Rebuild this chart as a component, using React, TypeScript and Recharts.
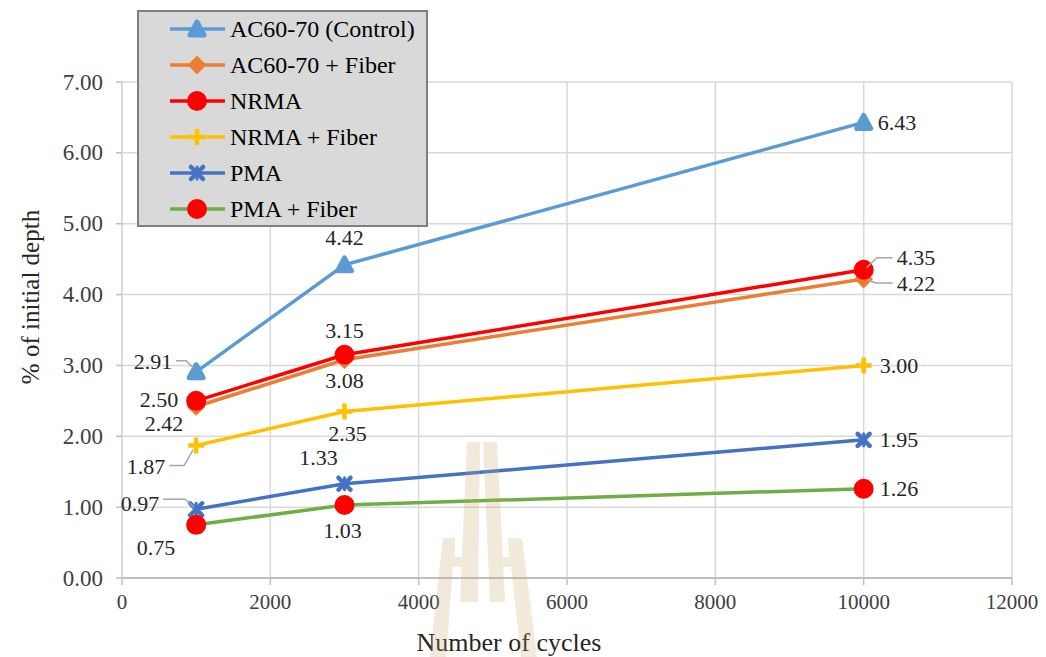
import React from 'react';
import { LineChart, Line, XAxis, YAxis, CartesianGrid } from 'recharts';

// cycles at which depth was measured
const cycles = [1000, 3000, 10000];

// % of initial depth per mix
const control = [2.91, 4.42, 6.43];
const acFiber = [2.42, 3.08, 4.22];
const nrma = [2.5, 3.15, 4.35];
const nrmaFiber = [1.87, 2.35, 3.0];
const pma = [0.97, 1.33, 1.95];
const pmaFiber = [0.75, 1.03, 1.26];

const xTicks = [0, 2000, 4000, 6000, 8000, 10000, 12000];
const yTicks = [0, 1, 2, 3, 4, 5, 6, 7];

const FONT = '"Liberation Serif", "Times New Roman", serif';

type Shape = 'triangle' | 'diamond' | 'circle' | 'plus' | 'cross';
type Place = { dx: number; dy: number; anchor: 'start' | 'middle' | 'end'; leader?: number[][] };

interface SeriesDef {
  key: string;
  name: string;
  values: number[];
  color: string;
  markerColor: string;
  shape: Shape;
  labels: Place[];
}

const series: SeriesDef[] = [
  {
    key: 'control', name: 'AC60-70 (Control)', values: control, color: '#5b9bd5', markerColor: '#5b9bd5', shape: 'triangle',
    labels: [
      { dx: -24, dy: -10, anchor: 'end', leader: [[-20, -11], [-10, -11], [-2, -3]] },
      { dx: 0, dy: -27, anchor: 'middle' },
      { dx: 14, dy: 0, anchor: 'start' },
    ],
  },
  {
    key: 'acFiber', name: 'AC60-70 + Fiber', values: acFiber, color: '#ed7d31', markerColor: '#ed7d31', shape: 'diamond',
    labels: [
      { dx: -13, dy: 17, anchor: 'end' },
      { dx: 0, dy: 21, anchor: 'middle' },
      { dx: 33, dy: 5, anchor: 'start', leader: [[4, 1], [12, 4], [29, 4]] },
    ],
  },
  {
    key: 'nrma', name: 'NRMA', values: nrma, color: '#ff0000', markerColor: '#ff0000', shape: 'circle',
    labels: [
      { dx: -18, dy: -1, anchor: 'end' },
      { dx: 0, dy: -24, anchor: 'middle' },
      { dx: 33, dy: -12, anchor: 'start', leader: [[3, -2], [13, -12], [29, -12]] },
    ],
  },
  {
    key: 'nrmaFiber', name: 'NRMA + Fiber', values: nrmaFiber, color: '#ffc000', markerColor: '#ffc000', shape: 'plus',
    labels: [
      { dx: -31, dy: 21, anchor: 'end', leader: [[-27, 20], [-12, 20], [-3, 4]] },
      { dx: 3, dy: 22, anchor: 'middle' },
      { dx: 16, dy: 0, anchor: 'start' },
    ],
  },
  {
    key: 'pma', name: 'PMA', values: pma, color: '#4472c4', markerColor: '#4472c4', shape: 'cross',
    labels: [
      { dx: -37, dy: -6, anchor: 'end', leader: [[-33, -10], [-11, -10], [-2, -2]] },
      { dx: -26, dy: -26, anchor: 'middle' },
      { dx: 16, dy: 0, anchor: 'start' },
    ],
  },
  {
    key: 'pmaFiber', name: 'PMA + Fiber', values: pmaFiber, color: '#70ad47', markerColor: '#ff0000', shape: 'circle',
    labels: [
      { dx: -21, dy: 23, anchor: 'end' },
      { dx: -2, dy: 25, anchor: 'middle' },
      { dx: 16, dy: 0, anchor: 'start' },
    ],
  },
];

const data = cycles.map((c, i) => {
  const row: Record<string, number> = { cycles: c };
  series.forEach((s) => {
    row[s.key] = s.values[i];
  });
  return row;
});

function Marker({ shape, x, y, color }: { shape: Shape; x: number; y: number; color: string }) {
  switch (shape) {
    case 'triangle':
      return (
        <path
          d={`M${x},${y - 7} L${x + 7},${y + 6} L${x - 7},${y + 6} Z`}
          fill={color}
          stroke={color}
          strokeWidth={5}
          strokeLinejoin="round"
        />
      );
    case 'diamond':
      return (
        <path
          d={`M${x},${y - 8} L${x + 8},${y} L${x},${y + 8} L${x - 8},${y} Z`}
          fill={color}
          stroke={color}
          strokeWidth={2}
          strokeLinejoin="round"
        />
      );
    case 'plus':
      return (
        <g stroke={color} strokeWidth={4.5}>
          <line x1={x - 8} y1={y} x2={x + 8} y2={y} />
          <line x1={x} y1={y - 8} x2={x} y2={y + 8} />
        </g>
      );
    case 'cross':
      return (
        <g stroke={color} strokeWidth={4.5} strokeLinecap="round">
          <line x1={x - 6} y1={y - 6} x2={x + 6} y2={y + 6} />
          <line x1={x - 6} y1={y + 6} x2={x + 6} y2={y - 6} />
          <line x1={x} y1={y - 6} x2={x} y2={y + 6} strokeWidth={3} />
        </g>
      );
    default:
      return <circle cx={x} cy={y} r={10} fill={color} />;
  }
}

const makeDot = (s: SeriesDef) => (props: any) => {
  const { cx, cy, index } = props;
  return (
    <g key={`${s.key}-dot-${index}`}>
      <Marker shape={s.shape} x={cx} y={cy} color={s.markerColor} />
    </g>
  );
};

const makeLabel = (s: SeriesDef) => (props: any) => {
  const { x, y, index, value } = props;
  const p = s.labels[index];
  if (!p) return null;
  return (
    <g key={`${s.key}-lbl-${index}`}>
      {p.leader && (
        <polyline
          points={p.leader.map(([a, b]) => `${x + a},${y + b}`).join(' ')}
          fill="none"
          stroke="#a6a6a6"
          strokeWidth={1.5}
        />
      )}
      <text
        x={x + p.dx}
        y={y + p.dy}
        textAnchor={p.anchor}
        dominantBaseline="central"
        fontFamily={FONT}
        fontSize={22}
        fill="#262626"
      >
        {Number(value).toFixed(2)}
      </text>
    </g>
  );
};

const XTick = (props: any) => {
  const { x, y, payload } = props;
  return (
    <text x={x} y={y + 15} textAnchor="middle" dominantBaseline="central" fontFamily={FONT} fontSize={21} fill="#404040">
      {payload.value}
    </text>
  );
};

const YTick = (props: any) => {
  const { x, y, payload } = props;
  return (
    <text x={x - 11} y={y} textAnchor="end" dominantBaseline="central" fontFamily={FONT} fontSize={23} fill="#404040">
      {Number(payload.value).toFixed(2)}
    </text>
  );
};

function LegendBox() {
  return (
    <div
      style={{
        position: 'absolute',
        left: 137,
        top: 10,
        width: 291,
        height: 217,
        boxSizing: 'border-box',
        background: '#d9d9d9',
        border: '2px solid #7f7f7f',
      }}
    >
      <svg width={287} height={213} style={{ display: 'block' }}>
        {series.map((s, i) => {
          const cy = 17 + i * 36;
          return (
            <g key={s.key}>
              <line x1={31} y1={cy} x2={86} y2={cy} stroke={s.color} strokeWidth={3.5} />
              <Marker shape={s.shape} x={58} y={cy} color={s.markerColor} />
              <text x={91} y={cy} dominantBaseline="central" fontFamily={FONT} fontSize={24} fill="#000">
                {s.name}
              </text>
            </g>
          );
        })}
      </svg>
    </div>
  );
}

// faint university emblem printed behind the plot
function Emblem() {
  return (
    <svg width={1046} height={657} style={{ position: 'absolute', left: 0, top: 0, pointerEvents: 'none' }}>
      <g fill="#c9a76a" opacity={0.24}>
        <polygon points="467,442 480,442 478,602 460,602" />
        <polygon points="483,442 497,442 505,602 490,602" />
        <polygon points="443,538 455,538 455,557 466,557 466,567 453,567 446,657 430,657" />
        <polygon points="508,538 522,538 537,657 521,657 511,567 498,567 497,557 509,557" />
      </g>
    </svg>
  );
}

export default function App() {
  return (
    <div style={{ position: 'absolute', left: 0, top: 0, width: 1046, height: 657, background: '#fff' }}>
      <LineChart width={1046} height={657} data={data} margin={{ top: 82, right: 34, bottom: 0, left: 0 }}>
        <CartesianGrid stroke="#d9d9d9" strokeWidth={1.5} />
        <XAxis
          dataKey="cycles"
          type="number"
          domain={[0, 12000]}
          ticks={xTicks}
          height={79}
          axisLine={{ stroke: '#bfbfbf', strokeWidth: 2 }}
          tickLine={{ stroke: '#bfbfbf', strokeWidth: 1.5 }}
          tickSize={7}
          tick={<XTick />}
          interval={0}
          label={{
            content: () => (
              <text x={509} y={642} textAnchor="middle" dominantBaseline="central" fontFamily={FONT} fontSize={26} fill="#262626">
                Number of cycles
              </text>
            ),
          }}
        />
        <YAxis
          type="number"
          domain={[0, 7]}
          ticks={yTicks}
          width={122}
          axisLine={{ stroke: '#d9d9d9', strokeWidth: 1.5 }}
          tickLine={{ stroke: '#bfbfbf', strokeWidth: 1.5 }}
          tickSize={6}
          tick={<YTick />}
          interval={0}
          label={{
            content: () => (
              <text
                x={30}
                y={297}
                textAnchor="middle"
                dominantBaseline="central"
                transform="rotate(-90 30 297)"
                fontFamily={FONT}
                fontSize={25}
                fill="#262626"
              >
                % of initial depth
              </text>
            ),
          }}
        />
        {series.map((s) => (
          <Line
            key={s.key}
            dataKey={s.key}
            name={s.name}
            stroke={s.color}
            strokeWidth={3.5}
            dot={makeDot(s)}
            activeDot={false}
            label={makeLabel(s)}
            isAnimationActive={false}
          />
        ))}
      </LineChart>
      <Emblem />
      <LegendBox />
    </div>
  );
}
